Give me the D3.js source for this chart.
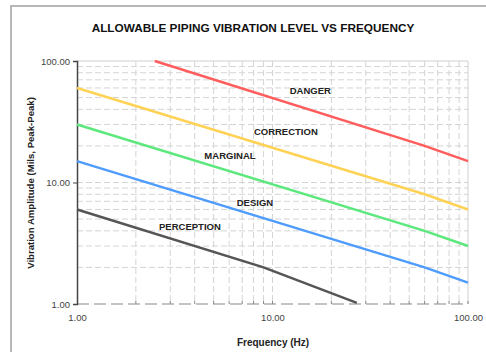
<!DOCTYPE html>
<html><head><meta charset="utf-8">
<script src="https://cdn.jsdelivr.net/npm/d3@7"></script>
<style>body{margin:0;background:#fff;}svg{display:block;font-family:"Liberation Sans",Arial,sans-serif;}</style>
</head><body>
<svg id="c" width="486" height="352"></svg>
<script>
const title = "ALLOWABLE PIPING VIBRATION LEVEL VS FREQUENCY";
const xLabel = "Frequency (Hz)";
const yLabel = "Vibration Amplitude (Mils, Peak-Peak)";
const xTicks = [1, 10, 100];
const yTicks = [1, 10, 100];
const seriesNames = ["DANGER", "CORRECTION", "MARGINAL", "DESIGN", "PERCEPTION"];
const seriesColors = ["#ff5c5c", "#ffd255", "#5ce87c", "#4f9cff", "#555555"];
const dangerPts = [[2.5, 100], [60, 20], [100, 15]];
const correctionPts = [[1, 60], [60, 8], [100, 6]];
const marginalPts = [[1, 30], [60, 4], [100, 3]];
const designPts = [[1, 15], [60, 2], [100, 1.5]];
const perceptionPts = [[1, 6], [9, 2], [27, 1.02]];
const labelPos = [[15.6, 53.5], [11.7, 24.6], [6.06, 15.6], [8.13, 6.41], [3.78, 4.06]];

const series = [dangerPts, correctionPts, marginalPts, designPts, perceptionPts];
const svg = d3.select("#c");
const m = {l: 77, r: 468, t: 61, b: 304};
const x = d3.scaleLog().domain([1, 100]).range([m.l, m.r]);
const y = d3.scaleLog().domain([1, 100]).range([m.b, m.t]);

// outer frame
svg.append("rect").attr("x", 11).attr("y", 6).attr("width", 500).attr("height", 400)
  .attr("fill", "none").attr("stroke", "#a0a0a0").attr("stroke-width", 1.5);

svg.append("text").attr("x", 253).attr("y", 32).attr("text-anchor", "middle")
  .attr("font-size", 11.8).attr("font-weight", "bold").attr("fill", "#111").text(title);

// grid
const minor = [];
for (const d of [1, 10]) for (let k = 2; k <= 9; k++) minor.push(d * k);
const gridVals = minor.concat([10]);
const g = svg.append("g");
g.selectAll(".vg").data(gridVals).join("line")
  .attr("x1", d => x(d)).attr("x2", d => x(d)).attr("y1", m.t).attr("y2", m.b)
  .attr("stroke", "#d4d4d4").attr("stroke-dasharray", "6,3").attr("stroke-width", 1);
g.selectAll(".hg").data(gridVals).join("line")
  .attr("y1", d => y(d)).attr("y2", d => y(d)).attr("x1", m.l).attr("x2", m.r)
  .attr("stroke", "#d4d4d4").attr("stroke-dasharray", "6,3").attr("stroke-width", 1);
// top and right border
g.append("line").attr("x1", m.l).attr("x2", m.r).attr("y1", m.t).attr("y2", m.t).attr("stroke", "#d0d0d0");
g.append("line").attr("x1", m.r).attr("x2", m.r).attr("y1", m.t).attr("y2", m.b).attr("stroke", "#d0d0d0");

// bottom axis (dashed)
g.append("line").attr("x1", m.l).attr("x2", m.r).attr("y1", m.b).attr("y2", m.b)
  .attr("stroke", "#888").attr("stroke-dasharray", "12,5").attr("stroke-width", 1.2);
g.selectAll(".bt").data(gridVals.concat([100])).join("line")
  .attr("x1", d => x(d)).attr("x2", d => x(d)).attr("y1", m.b).attr("y2", m.b - 3)
  .attr("stroke", "#888");

// left axis
const yAxis = d3.axisLeft(y).tickValues(yTicks).tickFormat(d3.format(".2f")).tickSize(4).tickPadding(3);
const ya = svg.append("g").attr("transform", `translate(${m.l},0)`).call(yAxis);
ya.select(".domain").attr("stroke", "#444").attr("stroke-width", 1.5);
ya.selectAll(".tick line").attr("stroke", "#444");
ya.selectAll("text").attr("font-size", 9.5).attr("fill", "#444").attr("font-family", "Liberation Sans, Arial, sans-serif");

const xAxis = d3.axisBottom(x).tickValues(xTicks).tickFormat(d3.format(".2f")).tickSize(0).tickPadding(10);
const xa = svg.append("g").attr("transform", `translate(0,${m.b})`).call(xAxis);
xa.select(".domain").remove();
xa.selectAll("text").attr("font-size", 9.5).attr("fill", "#444").attr("font-family", "Liberation Sans, Arial, sans-serif");

// lines
const line = d3.line().x(d => x(d[0])).y(d => y(d[1]));
svg.selectAll(".s").data(series).join("path")
  .attr("d", line).attr("fill", "none")
  .attr("stroke", (d, i) => seriesColors[i]).attr("stroke-width", 2.5);

// labels
svg.selectAll(".lb").data(seriesNames).join("text")
  .attr("x", (d, i) => x(labelPos[i][0])).attr("y", (d, i) => y(labelPos[i][1]))
  .attr("text-anchor", "middle").attr("font-size", 9.5).attr("font-weight", "bold").attr("fill", "#222")
  .text(d => d);

svg.append("text").attr("x", 273).attr("y", 346).attr("text-anchor", "middle")
  .attr("font-size", 10).attr("font-weight", "bold").attr("fill", "#222").text(xLabel);
svg.append("text").attr("transform", "translate(34,183) rotate(-90)").attr("text-anchor", "middle")
  .attr("font-size", 9.6).attr("font-weight", "bold").attr("fill", "#222").text(yLabel);
</script>
</body></html>
